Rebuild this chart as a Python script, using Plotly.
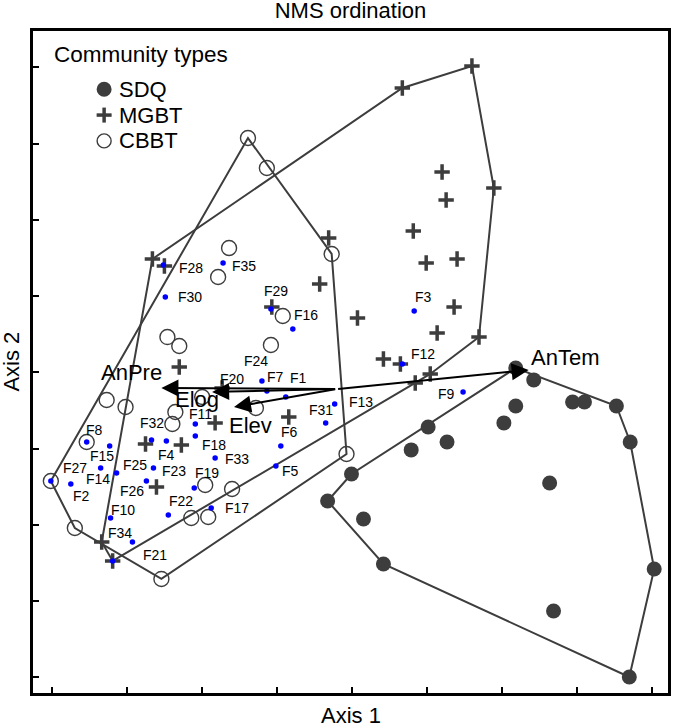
import plotly.graph_objects as go

# ---------------- data (NMS ordination scores, axis units) ----------------
sdq_x = [1.094, 1.214, 1.094, 1.015, 1.473, 1.552, 1.765, 1.857, 1.320, 2.017,
         1.346, 1.851, 0.510, 0.636, 0.397, -0.001, -0.160, 0.079, 0.212]
sdq_y = [0.028, -0.050, -0.221, -0.332, -0.195, -0.195, -0.221, -0.457, -0.726, -1.290,
         -1.565, -1.998, -0.359, -0.457, -0.509, -0.667, -0.844, -0.962, -1.257]

mgbt_x = [0.338, 0.802, 0.948, 0.603, 0.630, 0.411, -0.153, 0.497, 0.703, -0.213,
          0.039, 0.683, 0.570, -0.532, -1.328, -1.248, 0.849, 0.212, 0.325, 0.524,
          0.424, -1.149, -0.910, -1.374, -1.135, -1.301, -1.666, -1.593, -0.863, -0.419]
mgbt_y = [1.864, 2.008, 1.208, 1.313, 1.130, 0.927, 0.881, 0.717, 0.743, 0.579,
          0.356, 0.428, 0.258, 0.428, 0.743, 0.697, 0.231, 0.087, 0.054, -0.011,
          -0.070, 0.035, -0.332, -0.470, -0.477, -0.752, -1.113, -1.237, -0.103, -0.293]

cbbt_x = [-0.691, -0.565, -0.817, -0.890, -0.133, -0.459, -1.228, -1.149, -0.538, -1.633,
          -1.507, -1.175, -1.195, -0.996, -1.766, -2.005, -1.845, -1.268, -0.976, -0.797,
          -1.069, -0.956, -0.638, -0.034]
cbbt_y = [1.536, 1.340, 0.815, 0.625, 0.776, 0.369, 0.231, 0.172, 0.179, -0.182,
          -0.228, -0.260, -0.339, -0.162, -0.457, -0.713, -1.021, -1.355, -0.739, -0.765,
          -0.955, -0.949, -0.234, -0.536]

site_names = ["F%d" % i for i in range(1, 36)]
site_x = [-0.439, -1.872, 0.417, -1.235, -0.505, -0.472, -0.565, -1.766, 0.743, -1.607,
          -1.042, 0.338, -0.113, -1.673, -1.613, -0.392, -0.936, -1.042, -1.049, -0.857,
          -1.593, -1.222, -1.321, -0.598, -1.567, -1.368, -2.005, -1.255, -0.538, -1.242,
          -0.173, -1.334, -0.910, -1.461, -0.857]
site_y = [-0.162, -0.732, 0.402, -0.450, -0.614, -0.483, -0.123, -0.457, -0.129, -0.955,
          -0.339, 0.054, -0.208, -0.628, -0.483, 0.284, -0.890, -0.418, -0.759, -0.129,
          -1.237, -0.936, -0.628, -0.057, -0.660, -0.713, -0.713, 0.704, 0.415, 0.494,
          -0.332, -0.444, -0.562, -1.113, 0.717]

vector_names = ["AnPre", "Elog", "Elev", "AnTem"]
vector_x = [-1.268, -0.930, -0.784, 1.180]
vector_y = [-0.103, -0.129, -0.228, 0.015]
centroid_x = -0.100
centroid_y = -0.110

tick_vals = [-2.0, -1.5, -1.0, -0.5, 0.0, 0.5, 1.0, 1.5, 2.0]

group_names = ["SDQ", "MGBT", "CBBT"]

# ---------------- label placement (pixel offsets, styling only) ----------------
site_label_dx = [13, 11, 9, 0, 15, 9, 9, 8, -17, 12, 5, 21, 26, -3, -8, 13, 26, 19, 13, 9,
                 42, 13, 21, -6, 18, -14, 24, 28, 5, 25, -5, 0, 22, -12, 21]
site_label_dy = [-19, 12, -14, 14, 5, -14, -14, -12, 2, -8, -10, -10, -2, 11, 10, -14, 0, 9, -15, -13,
                 -6, -14, 3, -20, -8, 10, -13, 3, -18, 0, -13, -17, 1, -9, 3]
vector_label_dx = [-30, -15, 16, 36]
vector_label_dy = [-16, 8, 18, -13]

FONT = "Arial, Liberation Sans, sans-serif"
GREY = "#3d3d3d"


def convex_hull(xs, ys):
    pts = sorted(set(zip(xs, ys)))

    def cross(o, a, b):
        return (a[0] - o[0]) * (b[1] - o[1]) - (a[1] - o[1]) * (b[0] - o[0])

    lower = []
    for p in pts:
        while len(lower) >= 2 and cross(lower[-2], lower[-1], p) <= 0:
            lower.pop()
        lower.append(p)
    upper = []
    for p in reversed(pts):
        while len(upper) >= 2 and cross(upper[-2], upper[-1], p) <= 0:
            upper.pop()
        upper.append(p)
    h = lower[:-1] + upper[:-1]
    h.append(h[0])
    return [p[0] for p in h], [p[1] for p in h]


fig = go.Figure()

# convex hulls
for gx, gy in [(sdq_x, sdq_y), (mgbt_x, mgbt_y), (cbbt_x, cbbt_y)]:
    hx, hy = convex_hull(gx, gy)
    fig.add_trace(go.Scatter(x=hx, y=hy, mode="lines", showlegend=False, hoverinfo="skip",
                             line=dict(color=GREY, width=2)))

# group points
fig.add_trace(go.Scatter(x=sdq_x, y=sdq_y, mode="markers", name=group_names[0], showlegend=False,
                         marker=dict(symbol="circle", size=15, color=GREY)))
fig.add_trace(go.Scatter(x=mgbt_x, y=mgbt_y, mode="markers", name=group_names[1], showlegend=False,
                         marker=dict(symbol="cross-thin", size=11, color=GREY,
                                     line=dict(color=GREY, width=3.5))))
fig.add_trace(go.Scatter(x=cbbt_x, y=cbbt_y, mode="markers", name=group_names[2], showlegend=False,
                         marker=dict(symbol="circle-open", size=15, color=GREY,
                                     line=dict(color=GREY, width=1.4))))

# sites
fig.add_trace(go.Scatter(x=site_x, y=site_y, mode="markers", showlegend=False,
                         marker=dict(symbol="circle", size=5.5, color="#0000ff")))

annotations = []
for n, x, y, dx, dy in zip(site_names, site_x, site_y, site_label_dx, site_label_dy):
    annotations.append(dict(x=x, y=y, xref="x", yref="y", text=n, showarrow=False,
                            xshift=dx, yshift=-dy, font=dict(family=FONT, size=14, color="black")))

# environmental vectors
for n, x, y, dx, dy in zip(vector_names, vector_x, vector_y, vector_label_dx, vector_label_dy):
    annotations.append(dict(x=x, y=y, xref="x", yref="y", ax=centroid_x, ay=centroid_y,
                            axref="x", ayref="y", text="", showarrow=True, arrowhead=2,
                            arrowsize=1.7, arrowwidth=2, arrowcolor="black", standoff=0))
    annotations.append(dict(x=x, y=y, xref="x", yref="y", text=n, showarrow=False,
                            xshift=dx, yshift=-dy, font=dict(family=FONT, size=22, color="black")))

# axis titles (plot area spans 31..693 px vertically, 33..671 px horizontally)
annotations.append(dict(x=0.5, y=-0.034, xref="paper", yref="paper", text="Axis 1", showarrow=False,
                        xanchor="center", yanchor="middle", font=dict(family=FONT, size=22, color="black")))
annotations.append(dict(x=-0.0353, y=0.5, xref="paper", yref="paper", text="Axis 2", showarrow=False,
                        textangle=-90, xanchor="center", yanchor="middle",
                        font=dict(family=FONT, size=22, color="black")))

# legend (drawn manually)
annotations.append(dict(x=0.0298, y=0.964, xref="paper", yref="paper", text="Community types",
                        showarrow=False, xanchor="left", yanchor="middle",
                        font=dict(family=FONT, size=22.5, color="black")))
leg_key_x = 0.112
leg_text_x = 0.133
leg_rows = [0.912, 0.873, 0.834]
for name, yy in zip(group_names, leg_rows):
    annotations.append(dict(x=leg_text_x, y=yy, xref="paper", yref="paper", text=name,
                            showarrow=False, xanchor="left", yanchor="middle",
                            font=dict(family=FONT, size=22, color="black")))

shapes = [
    dict(type="circle", xref="paper", yref="paper", xsizemode="pixel", ysizemode="pixel",
         xanchor=leg_key_x, yanchor=leg_rows[0], x0=-7.5, x1=7.5, y0=-7.5, y1=7.5,
         fillcolor=GREY, line=dict(color=GREY, width=0)),
    dict(type="line", xref="paper", yref="paper", xsizemode="pixel", ysizemode="pixel",
         xanchor=leg_key_x, yanchor=leg_rows[1], x0=-7.5, x1=7.5, y0=0, y1=0,
         line=dict(color=GREY, width=3.5)),
    dict(type="line", xref="paper", yref="paper", xsizemode="pixel", ysizemode="pixel",
         xanchor=leg_key_x, yanchor=leg_rows[1], x0=0, x1=0, y0=-7.5, y1=7.5,
         line=dict(color=GREY, width=3.5)),
    dict(type="circle", xref="paper", yref="paper", xsizemode="pixel", ysizemode="pixel",
         xanchor=leg_key_x, yanchor=leg_rows[2], x0=-7, x1=7, y0=-7, y1=7,
         fillcolor="white", line=dict(color=GREY, width=1.4)),
]

axis_common = dict(showline=True, mirror=True, linecolor="black", linewidth=3,
                   ticks="inside", tickvals=tick_vals, ticklen=6, tickwidth=1.5, tickcolor="black",
                   showticklabels=False, showgrid=False, zeroline=False, fixedrange=True)

fig.update_layout(
    width=675, height=727,
    margin=dict(l=33, r=4, t=31, b=34),
    paper_bgcolor="white", plot_bgcolor="white",
    title=dict(text="NMS ordination", x=0.5, xref="paper", xanchor="center",
               y=0.9865, yref="container", yanchor="middle",
               font=dict(family=FONT, size=22, color="black")),
    xaxis=dict(range=[-2.124, 2.109], **axis_common),
    yaxis=dict(range=[-2.103, 2.238], **axis_common),
    annotations=annotations,
    shapes=shapes,
    showlegend=False,
    hovermode=False,
)

# the page's default 8 px body margin is removed so the figure fills the window exactly
fig.write_html("out.html", config={"displayModeBar": False},
               post_script="document.body.style.margin='0px';")
